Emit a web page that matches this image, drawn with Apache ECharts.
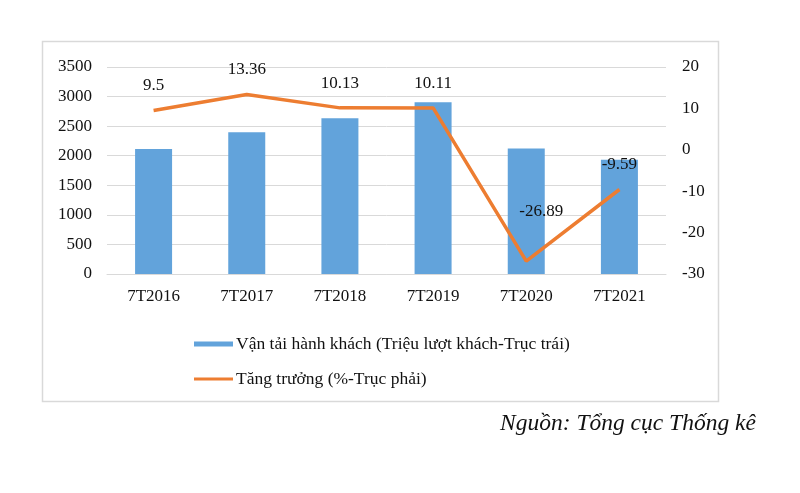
<!DOCTYPE html>
<html>
<head>
<meta charset="utf-8">
<script src="https://cdn.jsdelivr.net/npm/echarts@6/dist/echarts.min.js"></script>
<style>
html,body{margin:0;padding:0;background:#fff;}
#c{width:800px;height:493px;}
</style>
</head>
<body>
<div id="c"></div>
<script>
const categories = ['7T2016', '7T2017', '7T2018', '7T2019', '7T2020', '7T2021'];
const passengers = [2115, 2397, 2634, 2904, 2121, 1930];
const growth = [9.5, 13.36, 10.13, 10.11, -26.89, -9.59];
const barName = 'Vận tải hành khách (Triệu lượt khách-Trục trái)';
const lineName = 'Tăng trưởng (%-Trục phải)';
const sourceText = 'Nguồn: Tổng cục Thống kê';

const FONT = 'Liberation Serif';
const TXT = '#111';
const chart = echarts.init(document.getElementById('c'), null, {renderer: 'canvas'});

const lineData = growth.map((v, i) => {
  if (i === 4) return {value: v, label: {offset: [15, -25]}};
  return v;
});

chart.setOption({
  backgroundColor: '#fff',
  animation: false,
  graphic: [
    {type: 'rect', shape: {x: 42.5, y: 41.5, width: 676, height: 360},
     style: {fill: 'none', stroke: '#d9d9d9', lineWidth: 1.5}, silent: true},
    {type: 'text', left: 500, top: 412,
     style: {text: sourceText, font: 'italic 23.5px "Liberation Serif"', fill: TXT}}
  ],
  grid: {left: 107, right: 134, top: 67, bottom: 219},
  legend: [
    {data: [{name: barName, icon: 'rect'}], orient: 'vertical', left: 194, top: 335, padding: 0,
     itemWidth: 39, itemHeight: 5, itemGap: 0,
     textStyle: {fontFamily: FONT, fontSize: 17.5, color: TXT, padding: [0, 0, 0, -2]}},
    {data: [{name: lineName, icon: 'rect'}], orient: 'vertical', left: 194, top: 370, padding: 0,
     itemWidth: 39, itemHeight: 3, itemGap: 0,
     textStyle: {fontFamily: FONT, fontSize: 17.5, color: TXT, padding: [0, 0, 0, -2]}}
  ],
  xAxis: {
    type: 'category', data: categories,
    axisLine: {show: true, lineStyle: {color: '#d9d9d9', width: 1}},
    axisTick: {show: false},
    axisLabel: {fontFamily: FONT, fontSize: 17, color: TXT, margin: 14}
  },
  yAxis: [
    {type: 'value', min: 0, max: 3500, interval: 500,
     axisLine: {show: false}, axisTick: {show: false},
     splitLine: {lineStyle: {color: '#d9d9d9', width: 1}},
     axisLabel: {fontFamily: FONT, fontSize: 17, color: TXT, margin: 15,
       formatter: v => String(v)}},
    {type: 'value', min: -30, max: 20, interval: 10,
     axisLine: {show: false}, axisTick: {show: false},
     splitLine: {show: false},
     axisLabel: {fontFamily: FONT, fontSize: 17, color: TXT, margin: 16,
       formatter: v => String(v)}}
  ],
  series: [
    {name: barName, type: 'bar', data: passengers, barWidth: 37, yAxisIndex: 0,
     itemStyle: {color: '#62a3db'}},
    {name: lineName, type: 'line', data: lineData, yAxisIndex: 1,
     symbol: 'circle', symbolSize: 0.1, showSymbol: true,
     lineStyle: {color: '#ED7D31', width: 3.5},
     itemStyle: {color: '#ED7D31'},
     label: {show: true, position: 'top', distance: 16,
       fontFamily: FONT, fontSize: 17, color: TXT}}
  ]
});
</script>
</body>
</html>
